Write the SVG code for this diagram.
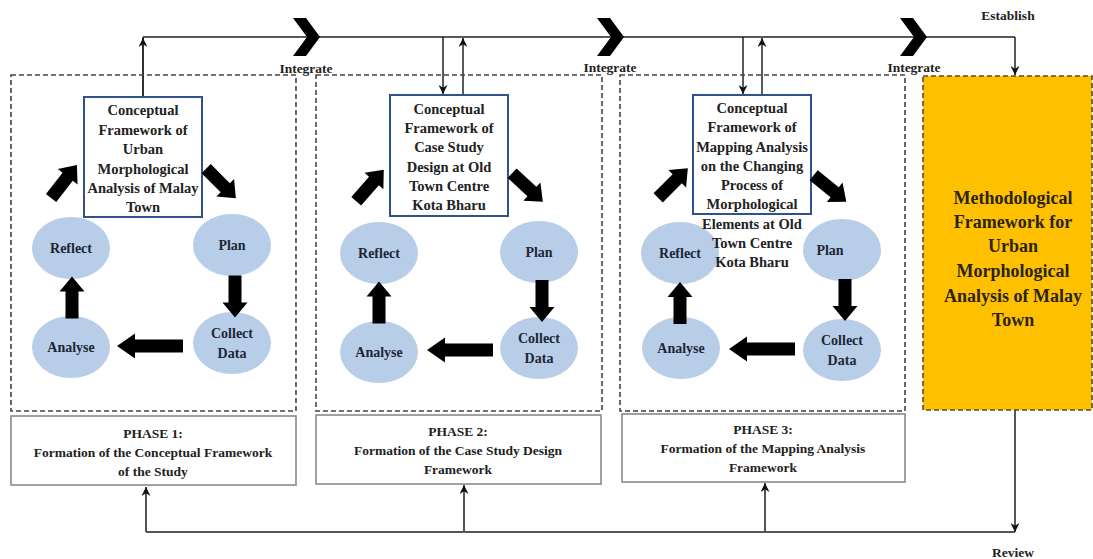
<svg xmlns="http://www.w3.org/2000/svg" xmlns:xlink="http://www.w3.org/1999/xlink" width="1093" height="559" viewBox="0 0 1093 559">
<style>
text{font-family:"Liberation Serif","Times New Roman",serif;font-weight:bold;fill:#222;text-anchor:middle}
.cb{font-size:14.5px}
.el{font-size:14px;fill:#1e2636}
.ph{font-size:13.5px}
.lab{font-size:13.5px}
.big{font-size:18px;fill:#2a2410}
.dash{fill:none;stroke:#444;stroke-width:1.6;stroke-dasharray:5 3}
.cbox{fill:#fff;stroke:#2F528F;stroke-width:2}
.pbox{fill:#fff;stroke:#8a8a8a;stroke-width:1.6}
.ell{fill:#B8CDE8}
.ln{fill:none;stroke:#222;stroke-width:1.5}
.lnb{fill:none;stroke:#555;stroke-width:2}
.blk{fill:#000}
</style>
<defs>
<marker id="ah" viewBox="0 0 10 10" refX="10" refY="5" markerWidth="9" markerHeight="9" markerUnits="userSpaceOnUse" orient="auto">
<path d="M0,0 L10,5 L0,10 L3,5 z" fill="#111"/>
</marker>
<path id="sa" d="M-21,-6.5 L6,-6.5 L6,-12.5 L21,0 L6,12.5 L6,6.5 L-21,6.5 z"/>
<path id="la" d="M-33,-6.5 L15,-6.5 L15,-12.5 L33,0 L15,12.5 L15,6.5 L-33,6.5 z"/>
<path id="chev" d="M-14,-19 L-1,-19 L13,0 L-1,19 L-14,19 L0,0 z"/>
</defs>

<g id="connectors">
<polyline class="ln" points="143,96 143,37"/>
<line class="ln" x1="143" y1="37" x2="1015" y2="37"/>
<line class="ln" x1="143" y1="96" x2="143" y2="38" marker-end="url(#ah)"/>
<line class="ln" x1="443" y1="37" x2="443" y2="94" marker-end="url(#ah)"/>
<line class="ln" x1="463" y1="95" x2="463" y2="38" marker-end="url(#ah)"/>
<line class="ln" x1="743" y1="37" x2="743" y2="94" marker-end="url(#ah)"/>
<line class="ln" x1="762" y1="95" x2="762" y2="38" marker-end="url(#ah)"/>
<polyline class="ln" points="1015,37 1015,75" marker-end="url(#ah)"/>
<use href="#chev" class="blk" x="307" y="37"/>
<use href="#chev" class="blk" x="611" y="37"/>
<use href="#chev" class="blk" x="914" y="37"/>
<line class="lnb" x1="146" y1="532" x2="1015" y2="532"/>
<line class="lnb" x1="146" y1="532" x2="146" y2="487" marker-end="url(#ah)"/>
<line class="lnb" x1="464" y1="532" x2="464" y2="485" marker-end="url(#ah)"/>
<line class="lnb" x1="765" y1="532" x2="765" y2="483" marker-end="url(#ah)"/>
<line class="lnb" x1="1015" y1="410" x2="1015" y2="532" marker-end="url(#ah)"/>
</g>

<g id="labels">
<text class="lab" x="306" y="73">Integrate</text>
<text class="lab" x="610" y="72">Integrate</text>
<text class="lab" x="914" y="72">Integrate</text>
<text class="lab" x="1008" y="20">Establish</text>
<text class="lab" x="1013" y="557">Review</text>
</g>

<g id="phase1">
<rect class="dash" x="11" y="75" width="285" height="336"/>
<rect class="pbox" x="11" y="416" width="285" height="69"/>
<text class="ph" x="153" y="438">PHASE 1:</text>
<text class="ph" x="153" y="457">Formation of the Conceptual Framework</text>
<text class="ph" x="153" y="476">of the Study</text>
<rect class="cbox" x="84" y="97" width="118" height="120"/>
<text class="cb" x="143" y="115">Conceptual</text>
<text class="cb" x="143" y="135">Framework of</text>
<text class="cb" x="143" y="154">Urban</text>
<text class="cb" x="143" y="174">Morphological</text>
<text class="cb" x="143" y="193">Analysis of Malay</text>
<text class="cb" x="143" y="212">Town</text>
<ellipse class="ell" cx="71" cy="248" rx="39" ry="31"/>
<ellipse class="ell" cx="232" cy="245" rx="39" ry="31"/>
<ellipse class="ell" cx="232" cy="343" rx="39" ry="31"/>
<ellipse class="ell" cx="71" cy="347" rx="39" ry="31"/>
<text class="el" x="71" y="253">Reflect</text>
<text class="el" x="232" y="250">Plan</text>
<text class="el" x="232" y="338">Collect</text>
<text class="el" x="232" y="358">Data</text>
<text class="el" x="71" y="352">Analyse</text>
<use href="#sa" class="blk" transform="translate(72,297.5) rotate(-90)"/>
<use href="#sa" class="blk" transform="translate(235,296.5) rotate(90)"/>
<use href="#la" class="blk" transform="translate(150,346) rotate(180)"/>
<use href="#sa" class="blk" transform="translate(64,181.5) rotate(-52)"/>
<use href="#sa" class="blk" transform="translate(221,183.5) rotate(45)"/>
</g>

<g id="phase2">
<rect class="dash" x="316" y="75" width="286" height="336"/>
<rect class="pbox" x="316" y="415" width="285" height="69"/>
<text class="ph" x="458" y="436">PHASE 2:</text>
<text class="ph" x="458" y="455">Formation of the Case Study Design</text>
<text class="ph" x="458" y="474">Framework</text>
<rect class="cbox" x="390" y="95" width="118" height="121"/>
<text class="cb" x="449" y="114">Conceptual</text>
<text class="cb" x="449" y="133">Framework of</text>
<text class="cb" x="449" y="152">Case Study</text>
<text class="cb" x="449" y="172">Design at Old</text>
<text class="cb" x="449" y="191">Town Centre</text>
<text class="cb" x="449" y="210">Kota Bharu</text>
<ellipse class="ell" cx="379" cy="253" rx="39" ry="31"/>
<ellipse class="ell" cx="539" cy="252" rx="39" ry="31"/>
<ellipse class="ell" cx="539" cy="348" rx="39" ry="31"/>
<ellipse class="ell" cx="379" cy="352" rx="39" ry="31"/>
<text class="el" x="379" y="258">Reflect</text>
<text class="el" x="539" y="257">Plan</text>
<text class="el" x="539" y="343">Collect</text>
<text class="el" x="539" y="363">Data</text>
<text class="el" x="379" y="357">Analyse</text>
<use href="#sa" class="blk" transform="translate(379,302.5) rotate(-90)"/>
<use href="#sa" class="blk" transform="translate(542,301) rotate(90)"/>
<use href="#la" class="blk" transform="translate(460,350) rotate(180)"/>
<use href="#sa" class="blk" transform="translate(370,185.5) rotate(-49)"/>
<use href="#sa" class="blk" transform="translate(527.5,187.5) rotate(43)"/>
</g>

<g id="phase3">
<rect class="dash" x="620" y="75" width="285" height="336"/>
<rect class="pbox" x="622" y="414" width="283" height="68"/>
<text class="ph" x="763" y="434">PHASE 3:</text>
<text class="ph" x="763" y="453">Formation of the Mapping Analysis</text>
<text class="ph" x="763" y="472">Framework</text>
<rect class="cbox" x="693" y="95" width="118" height="119"/>
<ellipse class="ell" cx="680" cy="253" rx="39" ry="31"/>
<ellipse class="ell" cx="842" cy="250" rx="39" ry="31"/>
<ellipse class="ell" cx="842" cy="350" rx="39" ry="31"/>
<ellipse class="ell" cx="681" cy="348" rx="39" ry="31"/>
<text class="cb" x="752" y="113">Conceptual</text>
<text class="cb" x="752" y="132">Framework of</text>
<text class="cb" x="752" y="152">Mapping Analysis</text>
<text class="cb" x="752" y="171">on the Changing</text>
<text class="cb" x="752" y="190">Process of</text>
<text class="cb" x="752" y="209">Morphological</text>
<text class="cb" x="752" y="229">Elements at Old</text>
<text class="cb" x="752" y="248">Town Centre</text>
<text class="cb" x="752" y="267">Kota Bharu</text>
<text class="el" x="680" y="258">Reflect</text>
<text class="el" x="830" y="255">Plan</text>
<text class="el" x="842" y="345">Collect</text>
<text class="el" x="842" y="365">Data</text>
<text class="el" x="681" y="353">Analyse</text>
<use href="#sa" class="blk" transform="translate(680,303) rotate(-90)"/>
<use href="#sa" class="blk" transform="translate(845,300) rotate(90)"/>
<use href="#la" class="blk" transform="translate(762,349) rotate(180)"/>
<use href="#sa" class="blk" transform="translate(673,183) rotate(-45)"/>
<use href="#sa" class="blk" transform="translate(830,188.5) rotate(39)"/>
</g>

<g id="result">
<rect x="923" y="76" width="169" height="334" fill="#FFC000" stroke="#5a4a20" stroke-width="1.6" stroke-dasharray="5 3"/>
<text class="big" x="1013" y="204">Methodological</text>
<text class="big" x="1013" y="228">Framework for</text>
<text class="big" x="1013" y="252">Urban</text>
<text class="big" x="1013" y="277">Morphological</text>
<text class="big" x="1013" y="302">Analysis of Malay</text>
<text class="big" x="1013" y="326">Town</text>
</g>
</svg>
